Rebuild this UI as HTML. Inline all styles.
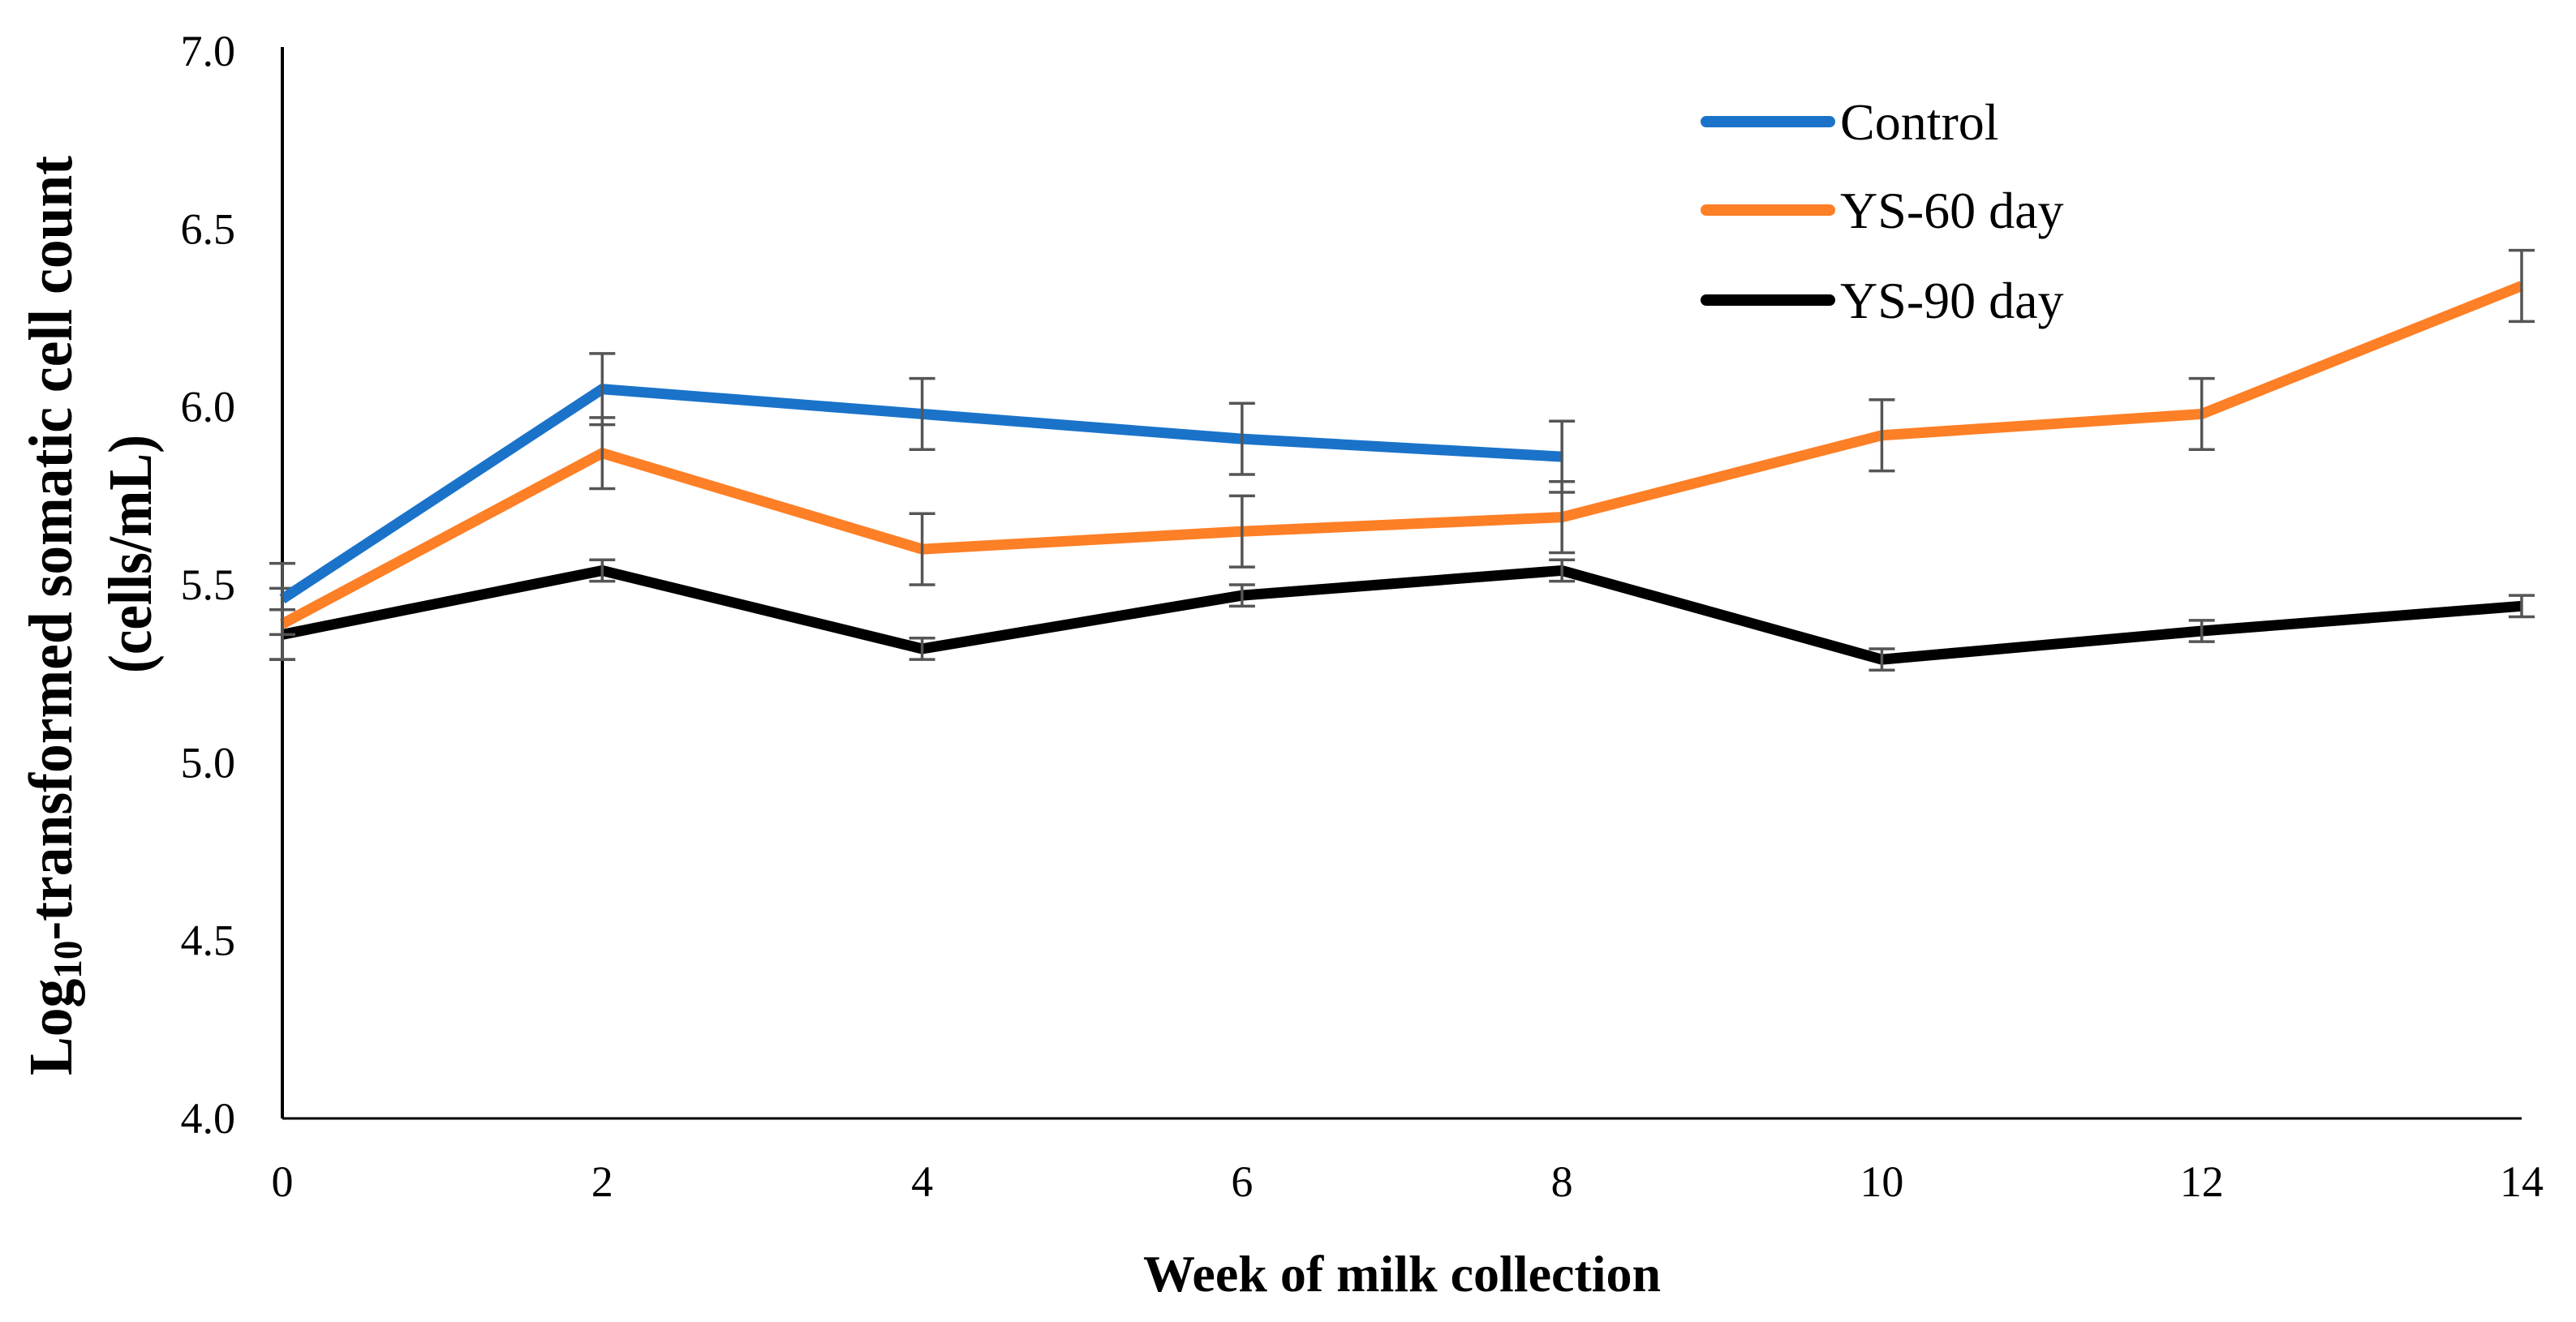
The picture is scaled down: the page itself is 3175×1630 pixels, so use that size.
<!DOCTYPE html>
<html><head><meta charset="utf-8"><style>
html,body{margin:0;padding:0;background:#fff;}
svg{display:block;}
text{font-family:"Liberation Serif",serif;}
</style></head><body>
<svg id="chart" width="3175" height="1630" viewBox="0 0 3175 1630" xmlns="http://www.w3.org/2000/svg">
</svg>
<script>
const weeks=[0,2,4,6,8,10,12,14];
const yTicks=[4.0,4.5,5.0,5.5,6.0,6.5,7.0];
const controlVals=[5.46,6.05,5.98,5.91,5.86];
const controlErr=[0.1,0.1,0.1,0.1,0.1];
const ys60Vals=[5.39,5.87,5.60,5.65,5.69,5.92,5.98,6.34];
const ys60Err=[0.1,0.1,0.1,0.1,0.1,0.1,0.1,0.1];
const ys90Vals=[5.36,5.54,5.32,5.47,5.54,5.29,5.37,5.44];
const ys90Err=[0.07,0.03,0.03,0.03,0.03,0.03,0.03,0.03];
const seriesNames=["Control","YS-60 day","YS-90 day"];

const svg=document.getElementById('chart');
const NS="http://www.w3.org/2000/svg";
const X0=348,X1=3108,Y0=1379,Y1=63;
const xs=v=>X0+(v-0)/(14-0)*(X1-X0);
const ys=v=>Y0-(v-4)/(7-4)*(Y0-Y1);
function mk(tag,attrs,parent){const e=document.createElementNS(NS,tag);for(const k in attrs)e.setAttribute(k,attrs[k]);(parent||svg).appendChild(e);return e;}

let ax=mk('line',{x1:X0,y1:Y1-5,x2:X0,y2:Y0,stroke:'#000','stroke-width':4});


let bx=mk('line',{x1:X0,y1:Y0,x2:X1,y2:Y0,stroke:'#000','stroke-width':3});



yTicks.forEach(t=>{
  const tx=mk('text',{x:X0-58,y:ys(t)+18,'text-anchor':'end','font-size':54,fill:'#000'});
  tx.textContent=t.toFixed(1);
  
  
});
weeks.forEach(w=>{
  const tx=mk('text',{x:xs(w),y:Y0+96,'text-anchor':'middle','font-size':54,fill:'#000'});
  tx.textContent=w;
  
  
});

function drawSeries(vals,errs,color,name){
  const g=mk('g',{});
  
  
  const pts=vals.map((v,i)=>xs(weeks[i])+','+ys(v)).join(' ');
  const pl=mk('polyline',{points:pts,fill:'none',stroke:color,'stroke-width':13,'stroke-linejoin':'round','stroke-linecap':'butt'},g);
  
  
  vals.forEach((v,i)=>{
    const x=xs(weeks[i]);
    const eb=mk('path',{d:`M${x-16},${ys(v+errs[i])}H${x+16}M${x},${ys(v+errs[i])}V${ys(v-errs[i])}M${x-16},${ys(v-errs[i])}H${x+16}`,stroke:'#555','stroke-width':3.5,fill:'none'},g);
    
    
  });
}
drawSeries(ys90Vals,ys90Err,'#000','ys-90');
drawSeries(ys60Vals,ys60Err,'#fd7f26','ys-60');
drawSeries(controlVals,controlErr,'#1a73c9','control');

const legColors=['#1a73c9','#fd7f26','#000'];
const legY=[150,259,370];
seriesNames.forEach((n,i)=>{
  const g=mk('g',{});
  
  
  mk('line',{x1:2103,y1:legY[i],x2:2255,y2:legY[i],stroke:legColors[i],'stroke-width':14,'stroke-linecap':'round'},g);
  const t=mk('text',{x:2268,y:legY[i]+22,'font-size':64,fill:'#000'},g);
  t.textContent=n;
});

const xt=mk('text',{x:(X0+X1)/2,y:1592,'text-anchor':'middle','font-size':64,'font-weight':'bold',fill:'#000'});
xt.textContent='Week of milk collection';



const yt=mk('text',{transform:'translate(88,759) rotate(-90)','text-anchor':'middle','font-size':76,'font-weight':'bold',fill:'#000',textLength:1134,lengthAdjust:'spacingAndGlyphs'});
yt.innerHTML='Log<tspan font-size="50" dy="12">10</tspan><tspan dy="-12">-transformed somatic cell count</tspan>';


const yt2=mk('text',{transform:'translate(186,683) rotate(-90)','text-anchor':'middle','font-size':76,'font-weight':'bold',fill:'#000',textLength:294,lengthAdjust:'spacingAndGlyphs'});
yt2.textContent='(cells/mL)';


</script>
</body></html>
